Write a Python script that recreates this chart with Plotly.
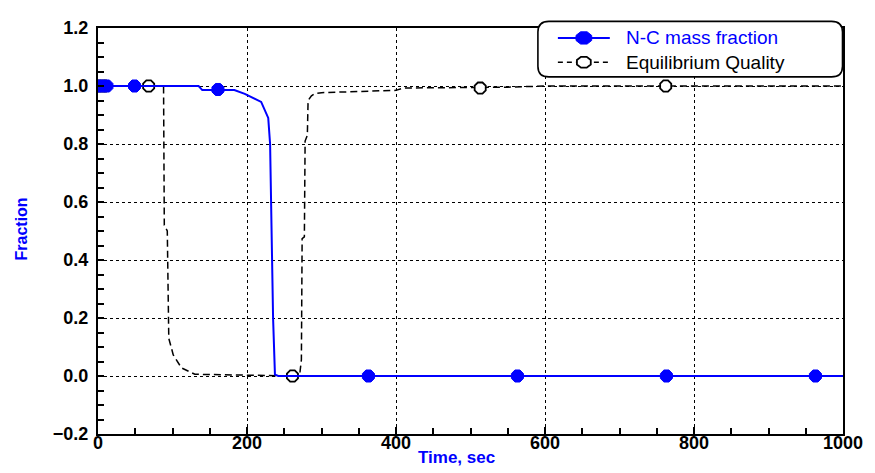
import math
import plotly.graph_objects as go

# ---- data ----
nc_time = [0, 135, 140, 183, 197, 219, 228.5, 231, 235, 237.5, 242, 1000]
nc_frac = [1.0, 1.0, 0.986, 0.986, 0.973, 0.945, 0.89, 0.80, 0.20, 0.005, 0.0, 0.0]
nc_marker_time = [0, 6, 12, 49, 161, 363, 563, 763, 963]
nc_marker_frac = [1.0, 1.0, 1.0, 1.0, 0.988, 0.0, 0.0, 0.0, 0.0]

eq_time = [0, 88, 89, 93, 95, 101, 112, 130, 200, 240, 268, 271, 273, 274, 277, 278,
           281, 282, 286.5, 291, 300, 400, 410, 550, 600, 1000]
eq_qual = [1.0, 1.0, 0.52, 0.50, 0.13, 0.073, 0.028, 0.006, 0.003, 0.0, 0.0, 0.011, 0.056,
           0.474, 0.48, 0.81, 0.83, 0.95, 0.966, 0.974, 0.977, 0.985, 0.993, 0.996, 1.0, 1.0]
eq_marker_time = [0, 8, 68, 261, 513, 762]
eq_marker_qual = [1.0, 1.0, 1.0, 0.0, 0.993, 1.0]

x_tick_vals = [0, 200, 400, 600, 800, 1000]
y_tick_vals = [-0.2, 0.0, 0.2, 0.4, 0.6, 0.8, 1.0, 1.2]
legend_names = ["N-C mass fraction", "Equilibrium Quality"]

# ---- geometry (page pixels; the page body has an 8px margin) ----
OFF = 8
PW, PH = 875, 473
W, H = PW - OFF, PH - OFF
L, R, T, B = 97.5, 843.5, 17.8, 434.5
def px(x):
    return (x - L) / (R - L)
def py(y):
    return (B - y) / (B - T)

BLUE = "#0000FF"
FONT = "Liberation Sans, Arial, sans-serif"
fig = go.Figure()

fig.add_trace(go.Scatter(x=eq_time, y=eq_qual, mode="lines", name=legend_names[1],
                         line=dict(color="black", width=1.5, dash="7px,4px"),
                         showlegend=False, hoverinfo="skip"))
fig.add_trace(go.Scatter(x=eq_marker_time, y=eq_marker_qual, mode="markers", name=legend_names[1],
                         marker=dict(symbol="octagon", size=12, color="white",
                                     line=dict(color="black", width=1.8)),
                         showlegend=False))
fig.add_trace(go.Scatter(x=nc_time, y=nc_frac, mode="lines", name=legend_names[0],
                         line=dict(color=BLUE, width=2),
                         showlegend=False))
fig.add_trace(go.Scatter(x=nc_marker_time, y=nc_marker_frac, mode="markers", name=legend_names[0],
                         marker=dict(symbol="octagon", size=13, color=BLUE,
                                     line=dict(color=BLUE, width=1)),
                         showlegend=False))

# ---- custom legend (rounded box, samples, texts) ----
def to_path(cmds):
    path = ""
    for p in cmds:
        cmd = p[0]
        coords = p[1:]
        s = []
        for i in range(0, len(coords), 2):
            s.append(f"{px(coords[i]):.5f},{py(coords[i+1]):.5f}")
        path += cmd + " ".join(s) + " "
    return path + "Z"

x0, x1, y0, y1, r = 538, 843, 11, 68, 11
box = [
    ("M", x0 + r, y0), ("L", x1 - r, y0), ("Q", x1, y0, x1, y0 + r),
    ("L", x1, y1 - r), ("Q", x1, y1, x1 - r, y1), ("L", x0 + r, y1),
    ("Q", x0, y1, x0, y1 - r), ("L", x0, y0 + r), ("Q", x0, y0, x0 + r, y0),
]
fig.add_shape(type="path", path=to_path(box), xref="paper", yref="paper",
              line=dict(color="black", width=1.6), fillcolor="white", layer="above")

def octagon(cx, cy, a, b):
    pts = []
    for k in range(8):
        ang = math.radians(22.5 + 45 * k)
        pts.append((cx + a * math.cos(ang), cy + b * math.sin(ang)))
    cmds = [("M",) + pts[0]] + [("L",) + p for p in pts[1:]]
    return to_path(cmds)

rows = [28, 53]
fig.add_shape(type="line", xref="paper", yref="paper", x0=px(558), x1=px(610),
              y0=py(rows[0]), y1=py(rows[0]), line=dict(color=BLUE, width=2), layer="above")
fig.add_shape(type="path", path=octagon(584, rows[0], 8.5, 6.8), xref="paper", yref="paper",
              line=dict(color=BLUE, width=1), fillcolor=BLUE, layer="above")
fig.add_shape(type="line", xref="paper", yref="paper", x0=px(558), x1=px(610),
              y0=py(rows[1]), y1=py(rows[1]), line=dict(color="black", width=1.5, dash="5px,4px"),
              layer="above")
fig.add_shape(type="path", path=octagon(584, rows[1], 7.5, 6), xref="paper", yref="paper",
              line=dict(color="black", width=1.8), fillcolor="white", layer="above")
fig.add_annotation(text=legend_names[0], xref="paper", yref="paper", x=px(624), y=py(rows[0]),
                   showarrow=False, xanchor="left", yanchor="middle",
                   font=dict(family=FONT, size=19, color=BLUE))
fig.add_annotation(text=legend_names[1], xref="paper", yref="paper", x=px(624), y=py(rows[1]),
                   showarrow=False, xanchor="left", yanchor="middle",
                   font=dict(family=FONT, size=19, color="black"))

tickfont = dict(family=FONT, size=18, color="black", weight="bold")

fig.update_xaxes(range=[0, 1000], tickvals=x_tick_vals, ticks="inside", ticklen=7,
                 tickcolor="black", tickwidth=1.5, tickfont=tickfont, ticklabelstandoff=-9,
                 showline=True, linecolor="black", linewidth=2, mirror=True,
                 showgrid=True, gridcolor="black", griddash="dot", gridwidth=1,
                 zeroline=False,
                 minor=dict(dtick=50, ticks="inside", ticklen=6, tickcolor="black",
                            tickwidth=1.5, showgrid=False))
fig.update_yaxes(range=[-0.2, 1.2], tickvals=y_tick_vals, tickformat=".1f",
                 ticks="inside", ticklen=6, ticklabelstandoff=4,
                 tickcolor="black", tickwidth=1.5, tickfont=tickfont,
                 showline=True, linecolor="black", linewidth=2, mirror=True,
                 showgrid=True, gridcolor="black", griddash="dot", gridwidth=1,
                 zeroline=False,
                 minor=dict(dtick=0.05, ticks="inside", ticklen=6, tickcolor="black",
                            tickwidth=1.5, showgrid=False))

fig.add_annotation(text="Time, sec", xref="paper", yref="paper", x=px(456), y=py(459),
                   showarrow=False, xanchor="center", yanchor="middle",
                   font=dict(family=FONT, size=17, color=BLUE, weight="bold"))
fig.add_annotation(text="Fraction", xref="paper", yref="paper", x=px(20.5), y=py(224.5),
                   showarrow=False, textangle=-90, xanchor="center", yanchor="middle",
                   font=dict(family=FONT, size=16, color=BLUE, weight="bold"))

fig.update_layout(
    width=W, height=H,
    margin=dict(l=L - OFF, r=PW - R, t=T - OFF, b=PH - B, pad=0),
    paper_bgcolor="white", plot_bgcolor="white",
    showlegend=False,
)

fig.write_html("out.html")
